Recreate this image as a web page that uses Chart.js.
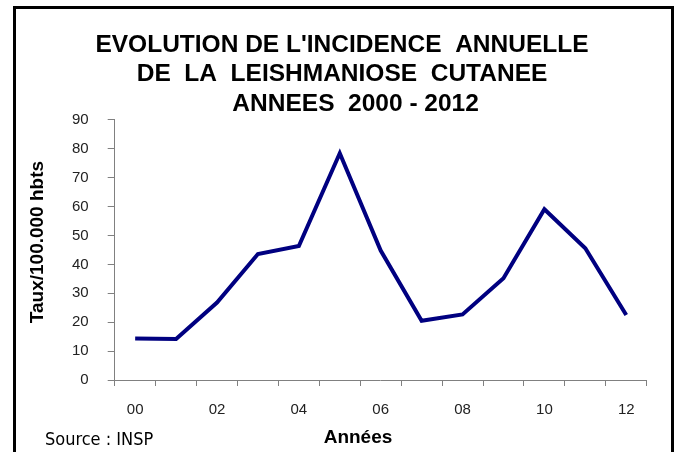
<!DOCTYPE html>
<html>
<head>
<meta charset="utf-8">
<script src="https://cdn.jsdelivr.net/npm/chart.js@4.4.1/dist/chart.umd.min.js"></script>
<style>
  html, body { margin: 0; padding: 0; background: #fff; overflow: hidden; }
  #wrap { position: relative; width: 680px; height: 452px; }
  #frame { position: absolute; left: 13px; top: 6px; width: 655px; height: 460px;
           border: 3px solid #000; border-bottom: none; }
  .note { position: absolute; white-space: nowrap; color: #000; line-height: 1; }
  #xTitle { left: 358px; top: 437px; transform: translate(-50%, -50%);
            font: bold 19px "Liberation Sans", Arial, sans-serif; }
  #source { left: 45px; top: 438px; transform: translateY(-50%);
            font: 18px "Liberation Sans Narrow", "DejaVu Sans Condensed", sans-serif; }
  canvas { position: absolute; left: 0; top: 0; }
</style>
</head>
<body>
<div id="wrap">
  <div id="frame"></div>
  <canvas id="chart" width="680" height="452"></canvas>
  <div class="note" id="xTitle">Années</div>
  <div class="note" id="source">Source : INSP</div>
</div>
<script>
const titleLines = ["EVOLUTION DE L'INCIDENCE  ANNUELLE", "DE  LA  LEISHMANIOSE  CUTANEE", "    ANNEES  2000 - 2012"];
const years = ['00', '01', '02', '03', '04', '05', '06', '07', '08', '09', '10', '11', '12'];
const rates = [14.4, 14.2, 26.8, 43.6, 46.4, 78.5, 44.8, 20.5, 22.7, 35.2, 59.1, 45.6, 22.5];
const yTitle = '   Taux/100.000 hbts';

Chart.defaults.font.family = '"Liberation Sans", Arial, sans-serif';
Chart.defaults.color = '#222';

new Chart(document.getElementById('chart'), {
    type: 'line',
    data: {
        labels: years,
        datasets: [{
            data: rates,
            borderColor: '#000080',
            borderWidth: 4,
            pointRadius: 0,
            tension: 0,
            fill: false
        }]
    },
    options: {
        responsive: false,
        animation: false,
        layout: { padding: { left: 20, right: 16, top: 0, bottom: 0 } },
        plugins: {
            legend: { display: false },
            tooltip: { enabled: false },
            title: {
                display: true,
                text: titleLines,
                color: '#000',
                font: { size: 24.5, weight: 'bold', lineHeight: 1.2 },
                padding: { top: 30.5, bottom: 1.3 }
            }
        },
        scales: {
            x: {
                offset: true,
                grid: { offset: true, drawOnChartArea: false, tickLength: 6, color: '#808080' },
                border: { color: '#808080', width: 1 },
                ticks: {
                    autoSkip: false,
                    maxRotation: 0,
                    padding: 15,
                    font: { size: 15 },
                    callback: (v, i) => i % 2 === 0 ? years[i] : ''
                },
                afterFit: s => { s.height = 72; }
            },
            y: {
                min: 0,
                max: 90,
                ticks: { stepSize: 10, padding: 19, font: { size: 15 } },
                grid: { drawOnChartArea: false, tickLength: 7, color: '#808080' },
                border: { color: '#808080', width: 1 },
                title: {
                    display: true,
                    text: yTitle,
                    color: '#000',
                    font: { size: 19, weight: 'bold', lineHeight: 1.2 },
                    padding: { top: 6.6, bottom: 0 }
                },
                afterFit: s => { s.width = 94.7; }
            },
            // empty right axis, only keeps the plot end where the original has it
            spacer: {
                position: 'right',
                display: true,
                ticks: { display: false },
                grid: { display: false },
                border: { display: false },
                afterFit: s => { s.width = 17.3; }
            }
        }
    }
});
</script>
</body>
</html>
